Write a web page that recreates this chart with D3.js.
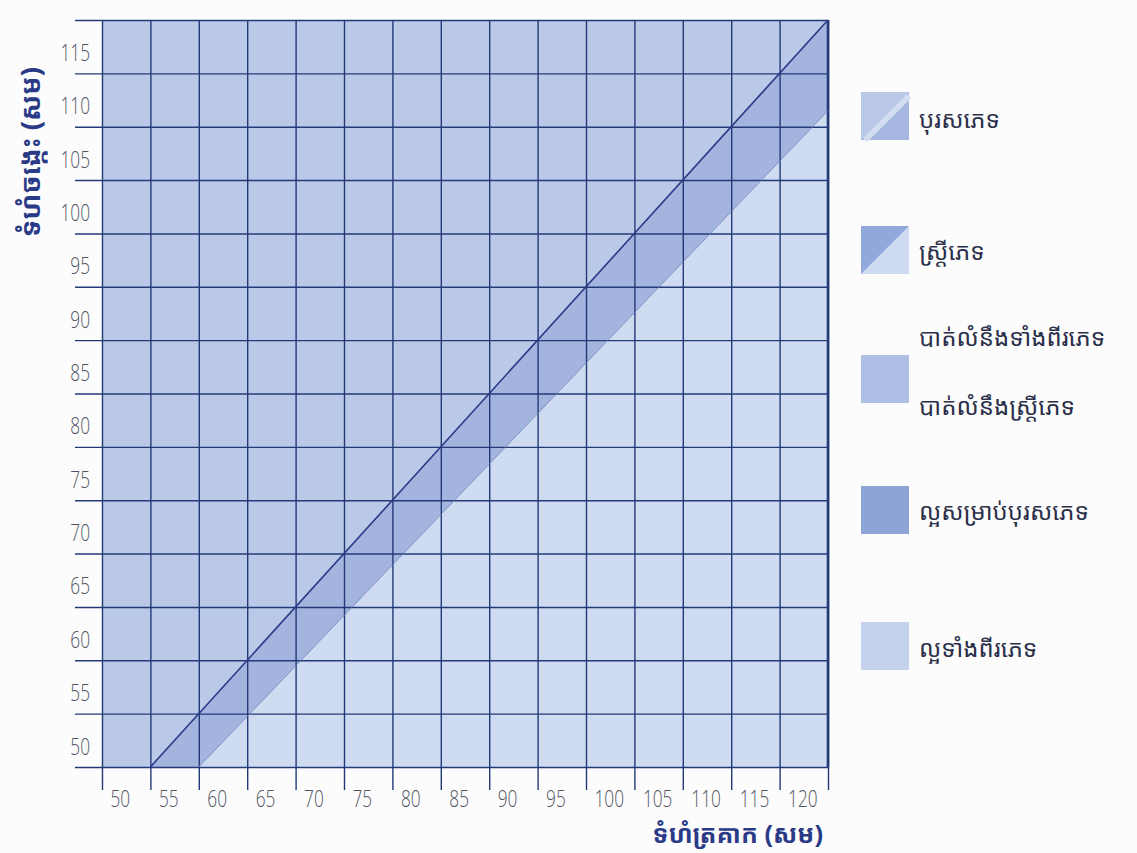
<!DOCTYPE html>
<html>
<head>
<meta charset="utf-8">
<script src="https://cdn.jsdelivr.net/npm/d3@7"></script>
<style>
  html, body { margin: 0; padding: 0; background: #fcfcfc; }
  svg { display: block; }
  .km { font-family: "Noto Sans Khmer", "Khmer OS", "Khmer OS System", "Hanuman", "Battambang", "Noto Sans", sans-serif; }
</style>
</head>
<body>
<svg id="chart" width="1137" height="853"></svg>
<script>
// ---- data ----
const xTickValues = [50, 55, 60, 65, 70, 75, 80, 85, 90, 95, 100, 105, 110, 115, 120];
const yTickValues = [50, 55, 60, 65, 70, 75, 80, 85, 90, 95, 100, 105, 110, 115];
const xDomain = [50, 125];
const yDomain = [50, 120];
// boundary lines (hip, waist)
const upperLine = [[55, 50], [125, 120]];
const lowerLine = [[60, 50], [125, 111.5]];
const xTitle = "ទំហំត្រគាក (សម)";
const yTitle = "ទំហំចង្កេះ (សម)";
const legendLabels = [
  ["បុរសភេទ"],
  ["ស្ត្រីភេទ"],
  ["បាត់លំនឹងទាំងពីរភេទ", "បាត់លំនឹងស្ត្រីភេទ"],
  ["ល្អសម្រាប់បុរសភេទ"],
  ["ល្អទាំងពីរភេទ"]
];

// ---- styles ----
const colUpper = "#bac9e8";
const colBand = "#a3b5df";
const colLower = "#cfdbf0";
const gridCol = "#233a78";
const navy = "#2a3a86";
const tickTextCol = "#50545f";

const svg = d3.select("#chart");
const x = d3.scaleLinear().domain(xDomain).range([102, 828]);
const y = d3.scaleLinear().domain(yDomain).range([767, 20]);

// regions
const regionUpper = [[xDomain[0], yDomain[0]], upperLine[0], upperLine[1], [xDomain[0], yDomain[1]]];
const regionBand = [upperLine[0], lowerLine[0], lowerLine[1], upperLine[1]];
const regionLower = [lowerLine[0], [xDomain[1], yDomain[0]], lowerLine[1]];
const poly = d3.line().x(d => x(d[0])).y(d => y(d[1]));
svg.append("path").attr("d", poly(regionUpper) + "Z").attr("fill", colUpper);
svg.append("path").attr("d", poly(regionBand) + "Z").attr("fill", colBand);
svg.append("path").attr("d", poly(regionLower) + "Z").attr("fill", colLower);

// horizontal grid (y axis)
const yAxis = d3.axisLeft(y)
  .tickValues(d3.range(yDomain[0], yDomain[1] + 1, 5))
  .tickSize(-(828 - 75))
  .tickFormat(d => yTickValues.includes(d) ? d : "");
const gy = svg.append("g").attr("transform", "translate(75,0)").call(yAxis);
gy.select(".domain").remove();
gy.selectAll("line").attr("stroke", gridCol).attr("stroke-width", 1.4);
gy.selectAll("text")
  .attr("x", null).attr("dy", null)
  .attr("transform", "translate(15,-13) scale(0.72,1)")
  .attr("text-anchor", "end")
  .attr("fill", tickTextCol)
  .style("font-family", "'Open Sans', sans-serif")
  .style("font-weight", 300)
  .style("font-size", "24px");

// vertical grid (x axis)
const xAxis = d3.axisBottom(x)
  .tickValues(d3.range(xDomain[0], xDomain[1] + 1, 5))
  .tickSize(-(790 - 20))
  .tickFormat(d => xTickValues.includes(d) ? d : "");
const gx = svg.append("g").attr("transform", "translate(0,790)").call(xAxis);
gx.select(".domain").remove();
gx.selectAll("line").attr("stroke", gridCol).attr("stroke-width", 1.4);
gx.selectAll("text")
  .attr("y", null).attr("dy", null)
  .attr("transform", "translate(8,17) scale(0.75,1)")
  .attr("text-anchor", "start")
  .attr("fill", tickTextCol)
  .style("font-family", "'Open Sans', sans-serif")
  .style("font-weight", 300)
  .style("font-size", "23px");

// frame emphasis (right)
svg.append("line").attr("x1", x(xDomain[1])).attr("x2", x(xDomain[1]))
  .attr("y1", y(yDomain[1])).attr("y2", y(yDomain[0]))
  .attr("stroke", gridCol).attr("stroke-width", 2.6);

// boundary lines
svg.append("path").attr("d", poly(upperLine)).attr("stroke", navy).attr("stroke-width", 1.6).attr("fill", "none");
svg.append("path").attr("d", poly(lowerLine)).attr("stroke", "#6a7fbc").attr("stroke-width", 0.8).attr("fill", "none");

// axis titles
svg.append("text").attr("class", "km")
  .attr("transform", "translate(40,152) rotate(-90)")
  .attr("text-anchor", "middle")
  .attr("fill", navy)
  .style("font-weight", 700)
  .style("font-size", "27px")
  .text(yTitle);
svg.append("text").attr("class", "km")
  .attr("x", 823).attr("y", 843)
  .attr("text-anchor", "end")
  .attr("fill", navy)
  .style("font-weight", 700)
  .style("font-size", "25px")
  .text(xTitle);

// legend
const legendSwatchY = [92, 226, 355, 486, 622];
const legendTextY = [[128], [260], [346, 415], [520], [657]];
const lg = svg.append("g");
legendLabels.forEach((labels, i) => {
  const gy0 = legendSwatchY[i];
  const g = lg.append("g").attr("transform", `translate(861,${gy0})`);
  const s = 48;
  if (i === 0) {
    g.append("rect").attr("width", s).attr("height", s).attr("fill", colUpper);
    g.append("path").attr("d", `M${s},${s}L${s},0L0,${s}Z`).attr("fill", "#a6b8e2");
    g.append("path").attr("d", `M4,${s}L${s},4`).attr("stroke", "#d2ddf2").attr("stroke-width", 6);
  } else if (i === 1) {
    g.append("rect").attr("width", s).attr("height", s).attr("fill", colLower);
    g.append("path").attr("d", `M0,0L${s},0L0,${s}Z`).attr("fill", "#93a8da");
  } else if (i === 2) {
    g.append("rect").attr("width", s).attr("height", s).attr("fill", "#aebfe6");
  } else if (i === 3) {
    g.append("rect").attr("width", s).attr("height", s).attr("fill", "#8ea3d6");
  } else {
    g.append("rect").attr("width", s).attr("height", s).attr("fill", "#c3d1ec");
  }
  labels.forEach((t, j) => {
    lg.append("text").attr("class", "km")
      .attr("x", 919).attr("y", legendTextY[i][j])
      .attr("fill", "#2b2f4a")
      .style("font-size", "24px")
      .text(t);
  });
});
</script>
</body>
</html>
